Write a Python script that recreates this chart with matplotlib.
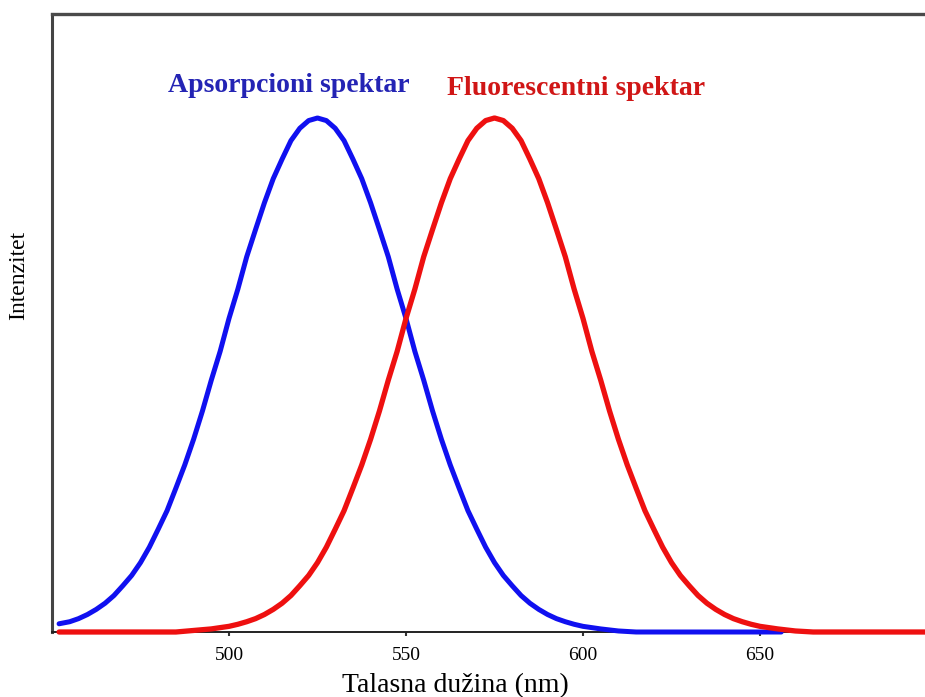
import matplotlib
matplotlib.use("Agg")
import matplotlib.pyplot as plt

# Valores (intensidad relativa, pico = 1)
talasna_apsorpcija = [
    452, 455, 457.5, 460, 462.5, 465, 467.5, 470, 472.5, 475, 477.5, 480,
    482.5, 485, 487.5, 490, 492.5, 495, 497.5, 500, 502.5, 505, 507.5, 510,
    512.5, 515, 517.5, 520, 522.5, 525, 527.5, 530, 532.5, 535, 537.5, 540,
    542.5, 545, 547.5, 550, 552.5, 555, 557.5, 560, 562.5, 565, 567.5, 570,
    572.5, 575, 577.5, 580, 582.5, 585, 587.5, 590, 592.5, 595, 597.5, 600,
    605, 610, 615, 656]
intenzitet_apsorpcija = [
    0.016, 0.020, 0.026, 0.034, 0.044, 0.056, 0.071, 0.090, 0.110, 0.135,
    0.165, 0.200, 0.236, 0.280, 0.325, 0.375, 0.430, 0.490, 0.546, 0.610,
    0.667, 0.730, 0.783, 0.835, 0.882, 0.920, 0.956, 0.980, 0.995, 1.000,
    0.995, 0.980, 0.956, 0.920, 0.882, 0.835, 0.783, 0.730, 0.667, 0.610,
    0.546, 0.490, 0.430, 0.375, 0.325, 0.280, 0.236, 0.200, 0.165, 0.135,
    0.110, 0.090, 0.071, 0.056, 0.044, 0.034, 0.026, 0.020, 0.015, 0.011,
    0.006, 0.002, 0.000, 0.000]

talasna_fluorescencija = [
    452, 485, 490, 495, 500, 502.5, 505, 507.5, 510, 512.5, 515, 517.5, 520,
    522.5, 525, 527.5, 530, 532.5, 535, 537.5, 540, 542.5, 545, 547.5, 550,
    552.5, 555, 557.5, 560, 562.5, 565, 567.5, 570, 572.5, 575, 577.5, 580,
    582.5, 585, 587.5, 590, 592.5, 595, 597.5, 600, 602.5, 605, 607.5, 610,
    612.5, 615, 617.5, 620, 622.5, 625, 627.5, 630, 632.5, 635, 637.5, 640,
    642.5, 645, 647.5, 650, 655, 660, 665, 697]
intenzitet_fluorescencija = [
    0.000, 0.000, 0.003, 0.006, 0.011, 0.015, 0.020, 0.026, 0.034, 0.044,
    0.056, 0.071, 0.090, 0.110, 0.135, 0.165, 0.200, 0.236, 0.280, 0.325,
    0.375, 0.430, 0.490, 0.546, 0.610, 0.667, 0.730, 0.783, 0.835, 0.882,
    0.920, 0.956, 0.980, 0.995, 1.000, 0.995, 0.980, 0.956, 0.920, 0.882,
    0.835, 0.783, 0.730, 0.667, 0.610, 0.546, 0.490, 0.430, 0.375, 0.325,
    0.280, 0.236, 0.200, 0.165, 0.135, 0.110, 0.090, 0.071, 0.056, 0.044,
    0.034, 0.026, 0.020, 0.015, 0.011, 0.006, 0.002, 0.000, 0.000]

tikovi = [500, 550, 600, 650]

plt.rcParams["font.family"] = ["Liberation Serif", "DejaVu Serif"]

W, H = 925, 697
fig = plt.figure(figsize=(W / 100, H / 100), dpi=100)
# ose: leva ivica na 52 px, dno na 632 px, vrh na 14 px
ax = fig.add_axes([52 / W, (H - 632) / H, (W - 52) / W, (632 - 14) / H])

ax.plot(talasna_apsorpcija, intenzitet_apsorpcija, color="#1010f0", lw=3.6,
        solid_capstyle="round", solid_joinstyle="round", clip_on=False,
        zorder=3)
ax.plot(talasna_fluorescencija, intenzitet_fluorescencija, color="#ee1010",
        lw=3.8, solid_capstyle="round", solid_joinstyle="round",
        clip_on=False, zorder=4)

ax.set_xlim(450, 450 + (W - 52) / 3.54)
ax.set_ylim(0, (632 - 14) / 514)

ax.text(516.9, 1.0506, "Apsorpcioni spektar", color="#2424b4",
        fontsize=20, fontweight="bold", ha="center", va="baseline")
ax.text(598.0, 1.0447, "Fluorescentni spektar", color="#d01616",
        fontsize=20, fontweight="bold", ha="center", va="baseline")

ax.set_xticks(tikovi)
ax.set_xticklabels([str(t) for t in tikovi])
ax.set_yticks([])
ax.tick_params(axis="x", direction="out", length=3, width=1.5,
               color="#333333", labelsize=14, pad=8)

ax.spines["right"].set_visible(False)
ax.spines["left"].set_color("#444444")
ax.spines["left"].set_linewidth(2.2)
ax.spines["top"].set_color("#4a4a4a")
ax.spines["top"].set_linewidth(2.4)
ax.spines["bottom"].set_color("#222222")
ax.spines["bottom"].set_linewidth(1.4)

fig.text(455 / W, (H - 692) / H, "Talasna dužina (nm)", fontsize=20,
         ha="center", va="baseline")
fig.text(19 / W, (H - 275) / H, "Intenzitet", fontsize=17, rotation=90,
         ha="center", va="center")

fig.savefig("out.png", dpi=100)
